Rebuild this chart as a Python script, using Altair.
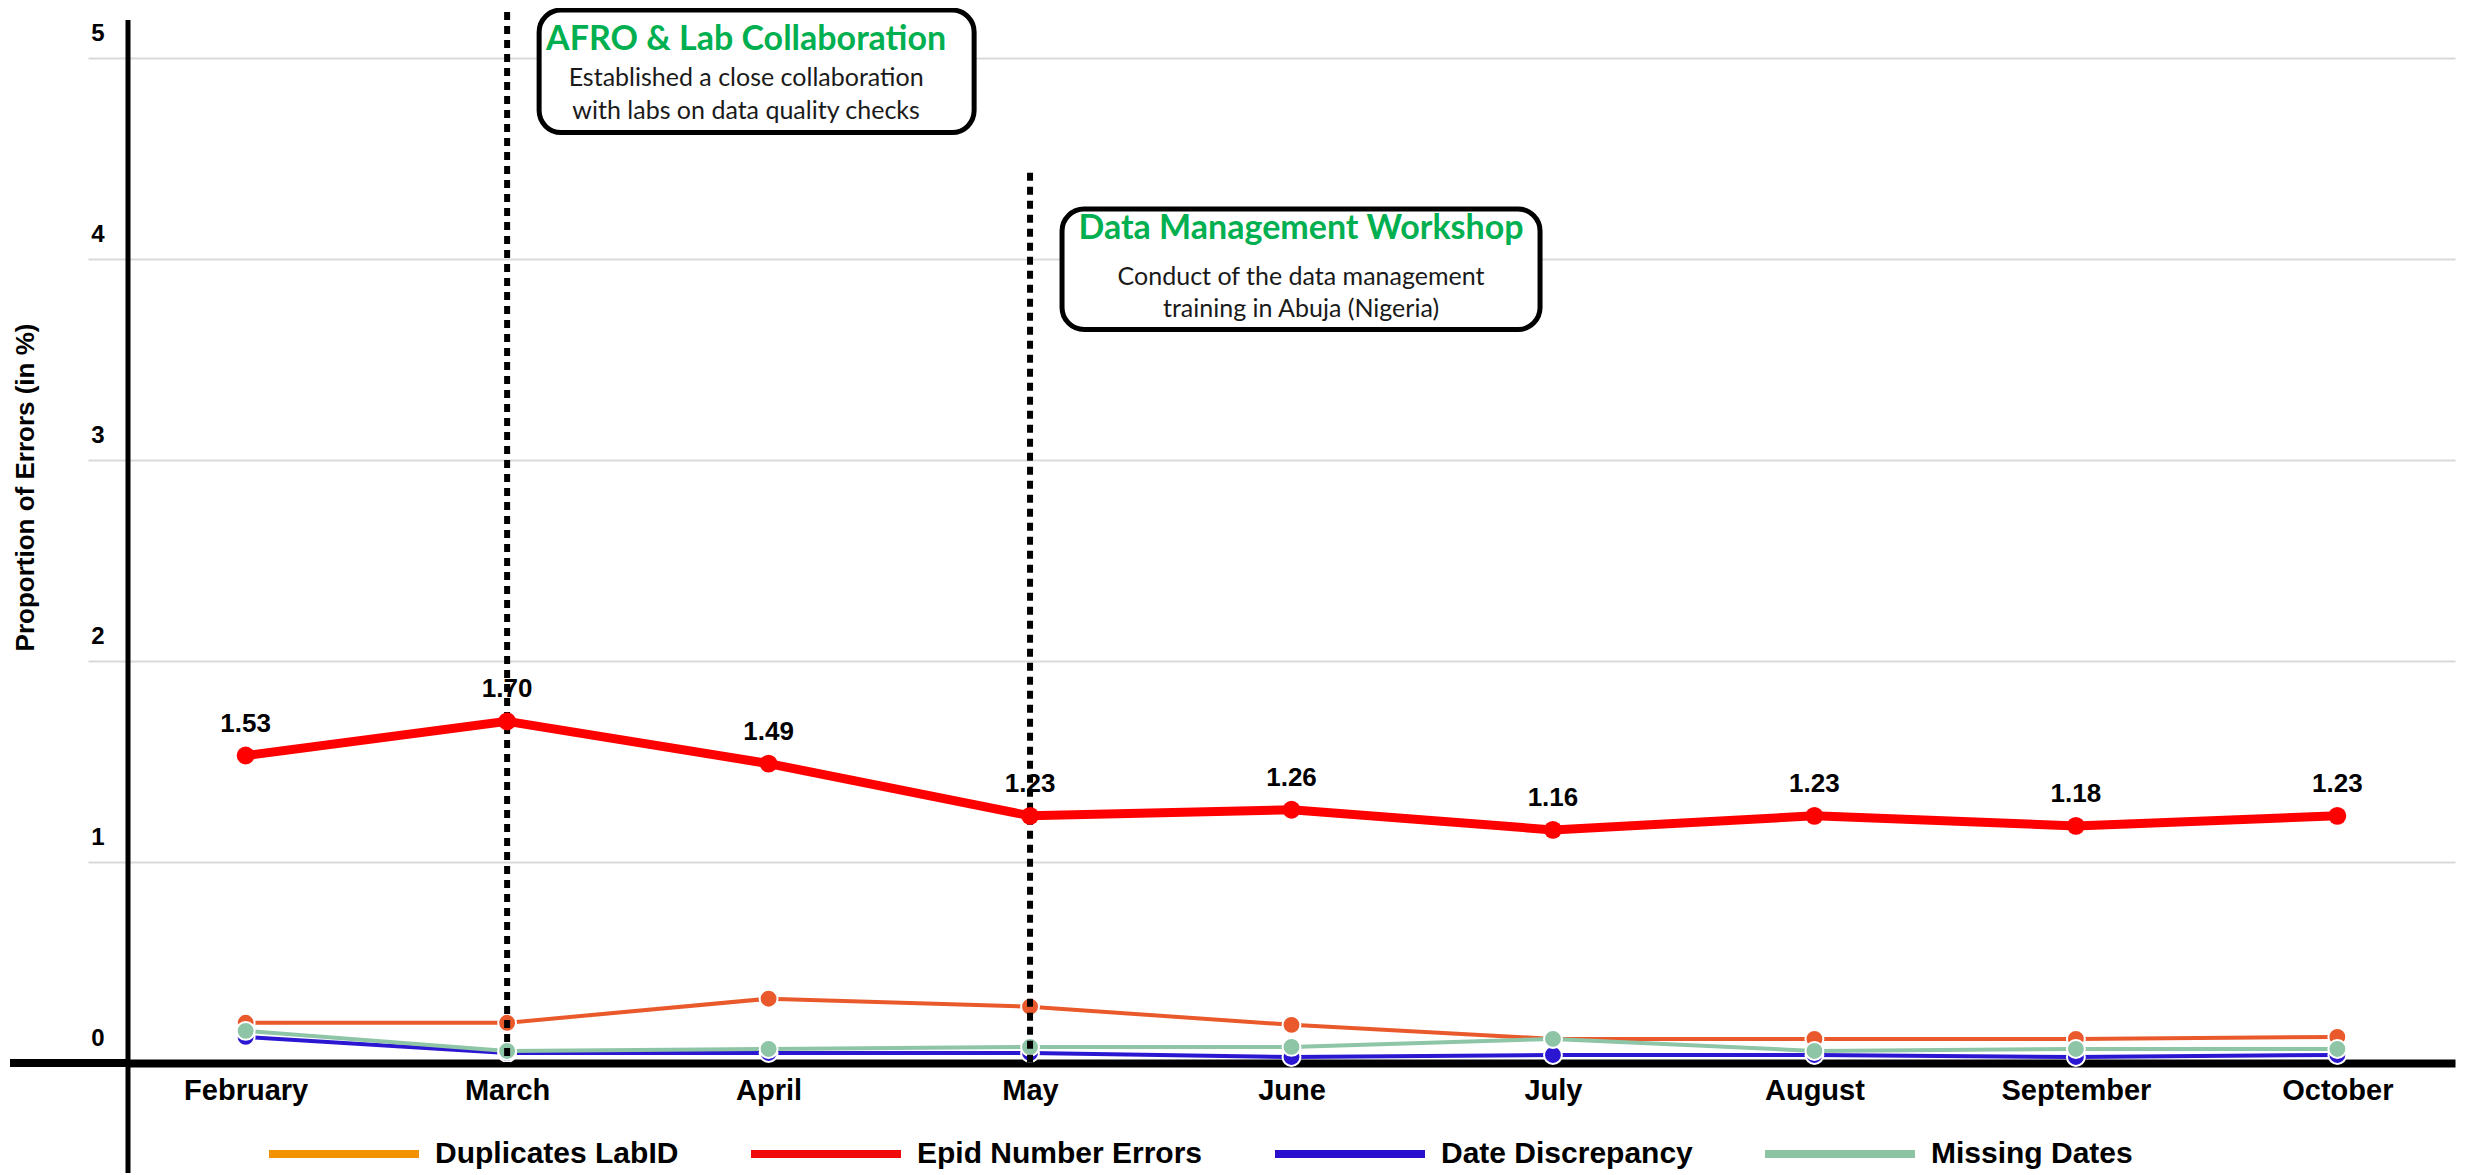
import altair as alt
import pandas as pd

# ---------------- data ----------------
months = ["February", "March", "April", "May", "June", "July", "August", "September", "October"]
epid = [1.53, 1.70, 1.49, 1.23, 1.26, 1.16, 1.23, 1.18, 1.23]
dup = [0.20, 0.20, 0.32, 0.28, 0.19, 0.12, 0.12, 0.12, 0.13]
miss = [0.16, 0.06, 0.07, 0.08, 0.08, 0.12, 0.06, 0.07, 0.07]
disc = [0.13, 0.05, 0.05, 0.05, 0.03, 0.04, 0.04, 0.03, 0.04]

series_names = ["Duplicates LabID", "Epid Number Errors", "Date Discrepancy", "Missing Dates"]
y_ticks = [0, 1, 2, 3, 4, 5]
y_axis_top = 5.19

event_months = ["March", "May"]
event_tops = [5.23, 4.43]
box_tops = [5.24, 4.25]
box_bottoms = [4.63, 3.65]
event_titles = ["AFRO & Lab Collaboration", "Data Management Workshop"]
event_lines1 = ["Established a close collaboration", "Conduct of the data management"]
event_lines2 = ["with labs on data quality checks", "training in Abuja (Nigeria)"]
title_y = [5.04, 4.10]
line1_y = [4.86, 3.87]
line2_y = [4.70, 3.71]

# ---------------- styles ----------------
legend_colors = ["#F39200", "#F00A0A", "#2A0FCC", "#8CC3A5"]
line_colors = {"Duplicates LabID": "#E9592B", "Epid Number Errors": "#FF0000",
               "Date Discrepancy": "#2B16D2", "Missing Dates": "#8EC5A6"}
BOLD = "Liberation Sans"
BOX_FONT = "Lato"
box_widths = [435, 478]
text_centers = [239, 271]

values = {"Duplicates LabID": dup, "Epid Number Errors": epid,
          "Date Discrepancy": disc, "Missing Dates": miss}
long = pd.DataFrame([{"month": m, "series": s, "value": v}
                     for s in series_names for m, v in zip(months, values[s])])

W, H = 2327, 1055
xs = alt.Scale(type="point", domain=months, padding=0.45)
ys = alt.Scale(domain=[0, 5.25], nice=False, zero=True)

x_enc = alt.X("month:N", scale=xs, sort=months,
              axis=alt.Axis(title=None, labelAngle=0, ticks=False, grid=False,
                            domainColor="black", domainWidth=8,
                            labelFont=BOLD, labelFontWeight="bold", labelFontSize=29,
                            labelColor="black", labelPadding=13))
y_enc = alt.Y("value:Q", scale=ys,
              axis=alt.Axis(values=y_ticks, format="d", grid=True, gridColor="#D9D9D9", gridWidth=2,
                            domain=False,
                            tickColor="#D9D9D9", tickWidth=2, tickSize=40,
                            labelFont=BOLD, labelFontWeight="bold", labelFontSize=24,
                            labelColor="black", labelPadding=-16, labelBaseline="bottom",
                            labelOffset=-13,
                            title="Proportion of Errors (in %)", titleFont=BOLD,
                            titleFontWeight="bold", titleFontSize=26, titleColor="black",
                            titleX=-103, titleY=479, titleAngle=270, titleAlign="center",
                            titleBaseline="middle"))

base = alt.Chart(long)

layers = []

# legend-only layer (invisible lines, visible legend)
legend_layer = base.mark_line(opacity=0).encode(
    x=x_enc, y=y_enc,
    color=alt.Color("series:N", sort=series_names,
                    scale=alt.Scale(domain=series_names, range=legend_colors),
                    legend=alt.Legend(title=None, orient="none", direction="horizontal",
                                      legendX=137, legendY=1067, symbolType="stroke",
                                      symbolSize=22500, symbolStrokeWidth=8, symbolOpacity=1,
                                      labelFont=BOLD, labelFontWeight="bold", labelFontSize=30,
                                      labelColor="black", labelLimit=500, labelOffset=12,
                                      columnPadding=56))
)
layers.append(legend_layer)

# y axis line (extends below the x axis as in the original)
axis_df = pd.DataFrame({"top": [y_axis_top]})
layers.append(alt.Chart(axis_df).mark_rule(color="black", strokeWidth=5).encode(
    x=alt.value(0), y=alt.Y("top:Q", scale=ys), y2=alt.value(H + 110)))
# x axis extension to the left
layers.append(alt.Chart(axis_df).mark_rule(color="black", strokeWidth=8).encode(
    x=alt.value(-118), x2=alt.value(0), y=alt.datum(0, scale=ys)))

# lower series, drawn in stacking order
for s in ["Date Discrepancy", "Duplicates LabID", "Missing Dates"]:
    d = base.transform_filter(alt.datum.series == s)
    layers.append(d.mark_line(color=line_colors[s], strokeWidth=4).encode(x=x_enc, y=y_enc))
    layers.append(d.mark_point(filled=True, fill=line_colors[s], stroke="white", strokeWidth=2,
                               opacity=1, size=320).encode(x=x_enc, y=y_enc))

# event dashed rules
ev = pd.DataFrame({"month": event_months, "top": event_tops})
layers.append(alt.Chart(ev).mark_rule(color="black", strokeWidth=6, strokeDash=[8, 6]).encode(
    x=alt.X("month:N", scale=xs, sort=months),
    y=alt.Y("top:Q", scale=ys), y2=alt.datum(0)))

# main red series
red = base.transform_filter(alt.datum.series == "Epid Number Errors")
layers.append(red.mark_line(color=line_colors["Epid Number Errors"], strokeWidth=9).encode(x=x_enc, y=y_enc))
layers.append(red.mark_circle(color=line_colors["Epid Number Errors"], opacity=1, size=320).encode(x=x_enc, y=y_enc))
layers.append(red.mark_text(font=BOLD, fontWeight="bold", fontSize=26, color="black",
                            baseline="alphabetic", dy=-24).encode(
    x=x_enc, y=y_enc, text=alt.Text("value:Q", format=".2f")))

# annotation boxes
for i in range(len(event_months)):
    row = pd.DataFrame({"month": [event_months[i]], "top": [box_tops[i]], "bottom": [box_bottoms[i]],
                        "t": [event_titles[i]], "l1": [event_lines1[i]], "l2": [event_lines2[i]],
                        "ty": [title_y[i]], "y1": [line1_y[i]], "y2": [line2_y[i]]})
    c = alt.Chart(row)
    xm = alt.X("month:N", scale=xs, sort=months)
    layers.append(c.mark_rect(fill="white", stroke="black", strokeWidth=5, cornerRadius=22,
                              xOffset=32, x2Offset=32 + box_widths[i]).encode(
        x=xm, x2=alt.X2("month:N"), y=alt.Y("top:Q", scale=ys), y2=alt.Y2("bottom:Q")))
    cx = text_centers[i]
    layers.append(c.mark_text(font=BOX_FONT, fontWeight="bold", fontSize=34, color="#00B050",
                              baseline="alphabetic", align="center", dx=cx).encode(
        x=xm, y=alt.Y("ty:Q", scale=ys), text="t:N"))
    layers.append(c.mark_text(font=BOX_FONT, fontSize=25, color="#1A1A1A",
                              baseline="alphabetic", align="center", dx=cx).encode(
        x=xm, y=alt.Y("y1:Q", scale=ys), text="l1:N"))
    layers.append(c.mark_text(font=BOX_FONT, fontSize=25, color="#1A1A1A",
                              baseline="alphabetic", align="center", dx=cx).encode(
        x=xm, y=alt.Y("y2:Q", scale=ys), text="l2:N"))

chart = alt.layer(*layers).properties(
    width=W, height=H,
    autosize=alt.AutoSizeParams(type="none"),
    padding={"left": 120, "top": 0, "right": 15, "bottom": 110},
).configure_view(stroke=None).resolve_scale(color="independent")

chart.save("out.html", embed_options={"renderer": "svg", "actions": False})
